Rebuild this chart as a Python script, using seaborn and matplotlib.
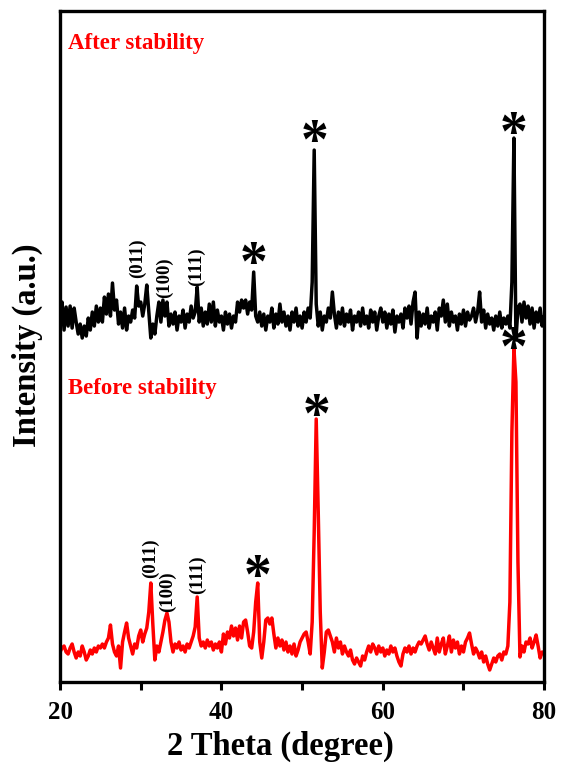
import numpy as np
import pandas as pd
import matplotlib
matplotlib.use("Agg")
import matplotlib.pyplot as plt
import seaborn as sns

# Scan grid (degrees 2-theta), 0.25 deg step
two_theta = np.arange(20.0, 80.0001, 0.25)

# XRD intensity after the stability test (a.u., before vertical offset)
after_intensity = [
    30, 50, 22, 45,   26, 46, 24, 44,   30, 18, 28, 14,   26, 16, 34, 22,
    40, 26, 46, 30,   44, 30, 55, 38,   58, 36, 69, 42,   52, 28, 40, 24,
    44, 22, 36, 30,   42, 34, 66, 46,   50, 36, 48, 67,   40, 14, 28, 18,
    36, 50, 30, 52,   36, 50, 26, 38,   28, 40, 22, 36,   30, 42, 24, 38,
    30, 46, 34, 40,   65, 30, 44, 26,   40, 28, 48, 30,   50, 26, 42, 30,
    36, 22, 40, 28,   38, 24, 36, 30,   50, 40, 52, 44,   52, 38, 50, 42,
    80, 36, 30, 40,   26, 38, 22, 36,   30, 44, 24, 38,   28, 48, 30, 40,
    26, 36, 22, 40,   30, 44, 26, 36,   24, 40, 30, 44,   34, 70, 202, 48,
    26, 40, 22, 36,   30, 44, 34, 60,   38, 24, 40, 28,   44, 26, 38, 30,
    42, 22, 36, 30,   40, 26, 44, 28,   36, 24, 42, 30,   40, 22, 36, 44,
    30, 40, 24, 38,   28, 42, 20, 36,   30, 38, 24, 44,   34, 46, 28, 50,
    60, 14, 40, 26,   38, 28, 44, 24,   36, 30, 40, 22,   44, 36, 52, 30,
    48, 26, 40, 30,   36, 22, 38, 28,   42, 26, 40, 32,   36, 44, 30, 40,
    60, 30, 42, 24,   38, 28, 34, 22,   36, 26, 40, 24,   34, 28, 36, 24,
    70, 214, 12, 44,  48, 30, 50, 34,   46, 28, 44, 24,   40, 30, 44, 26,
    36,
]

# XRD intensity before the stability test (a.u.)
before_intensity = [
    30, 34, 36, 30,   28, 34, 38, 30,   24, 30, 26, 36,   30, 22, 26, 32,
    28, 34, 30, 36,   34, 38, 34, 40,   44, 57, 38, 30,   26, 36, 14, 40,
    50, 59, 44, 36,   28, 38, 34, 46,   52, 40, 48, 54,   70, 99, 58, 22,
    36, 30, 40, 50,   62, 69, 60, 40,   30, 38, 34, 40,   32, 36, 30, 38,
    34, 40, 46, 55,   85, 44, 36, 40,   34, 42, 36, 40,   32, 38, 34, 40,
    30, 48, 38, 50,   44, 56, 46, 54,   42, 56, 44, 60,   62, 50, 36, 34,
    50, 80, 99, 40,   24, 40, 62, 64,   58, 64, 48, 34,   44, 36, 42, 32,
    40, 30, 36, 28,   38, 26, 32, 40,   44, 48, 50, 40,   28, 60, 150, 263,
    170, 70, 14, 30,  50, 52, 46, 40,   30, 44, 34, 40,   28, 36, 30, 26,
    32, 22, 18, 24,   20, 16, 26, 22,   30, 36, 30, 38,   34, 28, 36, 30,
    34, 26, 32, 28,   36, 30, 34, 26,   20, 16, 28, 34,   30, 36, 28, 34,
    30, 36, 40, 38,   42, 46, 38, 32,   40, 34, 28, 44,   30, 38, 44, 28,
    36, 46, 30, 42,   34, 40, 28, 36,   30, 40, 44, 49,   38, 28, 34, 30,
    24, 30, 20, 26,   18, 12, 18, 24,   20, 26, 28, 22,   30, 28, 36, 80,
    250, 334, 300, 120, 25, 36, 30, 40,  38, 44, 34, 40,   47, 36, 24, 30,
    28,
]

after_offset = 330

# Reflections marked with an asterisk (2-theta of peak maximum)
after_star_peaks = [44.0, 51.5, 76.25]
before_star_peaks = [44.5, 51.75, 76.25]

# Miller-index labels: (text, 2-theta)
after_hkl = [("(011)", 29.6), ("(100)", 32.9), ("(111)", 36.9)]
before_hkl = [("(011)", 31.2), ("(100)", 33.3), ("(111)", 37.0)]

x_ticks = [20, 40, 60, 80]
x_minor = [30, 50, 70]

df = pd.concat([
    pd.DataFrame({"2theta": two_theta,
                  "intensity": np.array(before_intensity),
                  "sample": "Before stability"}),
    pd.DataFrame({"2theta": two_theta,
                  "intensity": np.array(after_intensity) + after_offset,
                  "sample": "After stability"}),
])

sns.set_theme(style="white")
plt.rcParams["font.family"] = ["Liberation Serif", "DejaVu Serif"]
plt.rcParams["font.weight"] = "bold"
plt.rcParams["text.color"] = "black"
plt.rcParams["axes.labelcolor"] = "black"
plt.rcParams["xtick.color"] = "black"
plt.rcParams["xtick.labelcolor"] = "black"

fig = plt.figure(figsize=(5.61, 7.65), dpi=100)
ax = fig.add_axes([0.107, 0.1085, 0.863, 0.877])

sns.lineplot(data=df, x="2theta", y="intensity", hue="sample",
             palette={"Before stability": "#ff0000", "After stability": "#000000"},
             linewidth=2.5, legend=False, ax=ax, estimator=None, sort=False)

ax.set_xlim(20, 80)
ax.set_ylim(0, 671)

ax.set_xticks(x_ticks)
ax.set_xticks(x_minor, minor=True)
ax.set_yticks([])
ax.tick_params(axis="x", which="both", direction="out", length=6, width=2.2,
               color="black", bottom=True, labelsize=18, pad=8)
for lab in ax.get_xticklabels():
    lab.set_fontweight("bold")

for sp in ax.spines.values():
    sp.set_linewidth(2.4)
    sp.set_color("black")

ax.set_xlabel("2 Theta (degree)", fontsize=23.5, fontweight="bold")
ax.set_ylabel("Intensity (a.u.)", fontsize=23.5, fontweight="bold")
ax.xaxis.set_label_coords(0.455, -0.072)
ax.yaxis.set_label_coords(-0.036, 0.502)

ax.text(0.017, 0.952, "After stability", transform=ax.transAxes, color="#ff0000",
        fontsize=16.5, fontweight="bold", ha="left", va="center")
ax.text(0.017, 0.438, "Before stability", transform=ax.transAxes, color="#ff0000",
        fontsize=16.5, fontweight="bold", ha="left", va="center")


def peak_height(values, x, offset=0):
    i = int(np.argmin(np.abs(two_theta - x)))
    return values[i] + offset


# Asterisks over the marked reflections
for x, gap in zip(after_star_peaks, [6, 6, 2]):
    y = peak_height(after_intensity, x, after_offset) + gap
    ax.text(x, y, "*", fontsize=40, fontweight="bold", ha="center", va="center")
for x, gap in zip(before_star_peaks, [4, 1, -3]):
    y = peak_height(before_intensity, x) + gap
    ax.text(x, y, "*", fontsize=40, fontweight="bold", ha="center", va="center")

# Miller indices
for (lab, x), yc in zip(after_hkl, [424, 404, 415]):
    ax.text(x, yc, lab, rotation=90, fontsize=13.5, fontweight="bold",
            ha="center", va="center")
for (lab, x), yc in zip(before_hkl, [124, 90, 107]):
    ax.text(x, yc, lab, rotation=90, fontsize=13.5, fontweight="bold",
            ha="center", va="center")

fig.savefig("out.png", dpi=100)
